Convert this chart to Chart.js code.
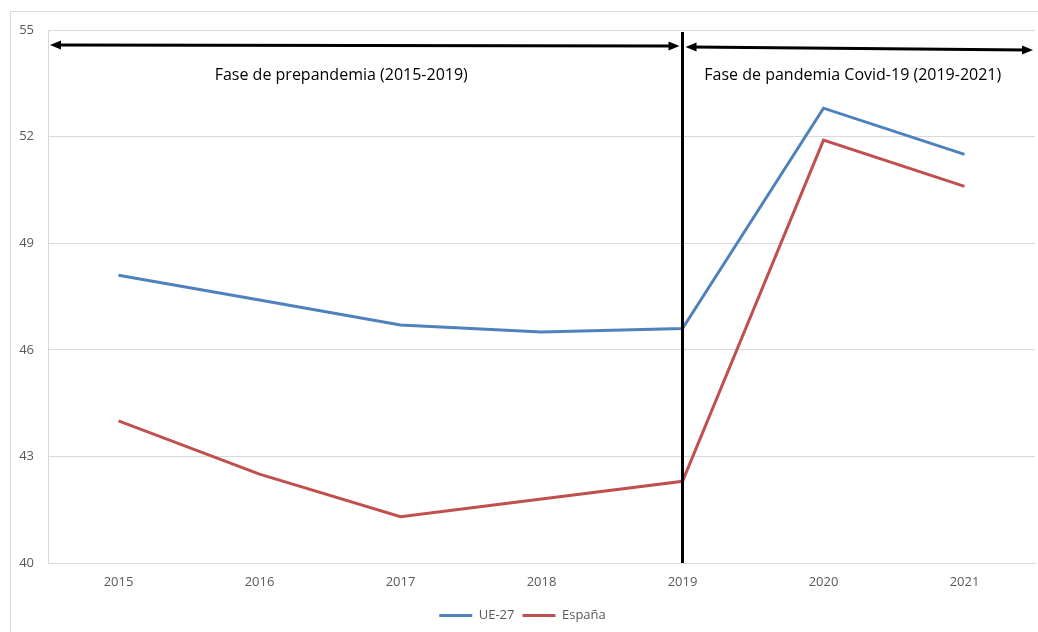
<!DOCTYPE html>
<html>
<head>
<meta charset="utf-8">
<script src="https://cdn.jsdelivr.net/npm/chart.js@4.4.1/dist/chart.umd.min.js"></script>
<style>
  html, body { margin: 0; padding: 0; background: #fff; }
  #wrap { width: 1038px; height: 632px; }
</style>
</head>
<body>
<div id="wrap"><canvas id="chart" width="1038" height="632"></canvas></div>
<script>
const years = ['2015', '2016', '2017', '2018', '2019', '2020', '2021']
const ue27 = [48.1, 47.4, 46.7, 46.5, 46.6, 52.8, 51.5]
const espana = [44.0, 42.5, 41.3, 41.8, 42.3, 51.9, 50.6]
const yTicks = [40, 43, 46, 49, 52, 55]
const splitYear = '2019'
const phaseLabels = ['Fase de prepandemia (2015-2019)', 'Fase de pandemia Covid-19 (2019-2021)']

function arrowHead(ctx, x, y, dir) {
  ctx.beginPath()
  ctx.moveTo(x, y)
  ctx.lineTo(x - dir * 11, y - 4.5)
  ctx.lineTo(x - dir * 11, y + 4.5)
  ctx.closePath()
  ctx.fill()
}

function doubleArrow(ctx, x1, y1, x2, y2) {
  ctx.beginPath()
  ctx.moveTo(x1 + 6, y1)
  ctx.lineTo(x2 - 6, y2)
  ctx.stroke()
  arrowHead(ctx, x1, y1, -1)
  arrowHead(ctx, x2, y2, 1)
}

// frame + phase annotations
const phasePlugin = {
  id: 'phases',
  beforeDraw(chart) {
    const ctx = chart.ctx
    ctx.save()
    ctx.strokeStyle = '#d9d9d9'
    ctx.lineWidth = 1
    ctx.strokeRect(10.5, 11.5, 1040, 640)
    ctx.restore()
  },
  afterDatasetsDraw(chart) {
    const ctx = chart.ctx
    const area = chart.chartArea
    const xs = chart.scales.x
    const vx = xs.getPixelForValue(years.indexOf(splitYear))
    ctx.save()
    ctx.strokeStyle = '#000'
    ctx.fillStyle = '#000'
    ctx.lineWidth = 3
    ctx.beginPath()
    ctx.moveTo(vx, area.top + 2)
    ctx.lineTo(vx, area.bottom)
    ctx.stroke()

    ctx.lineWidth = 2.8
    doubleArrow(ctx, area.left + 2, area.top + 15, vx - 3, area.top + 16)
    doubleArrow(ctx, vx + 3, area.top + 17, area.right - 2, area.top + 20)

    ctx.font = '16px "Open Sans"'
    ctx.textAlign = 'center'
    ctx.textBaseline = 'middle'
    ctx.fillText(phaseLabels[0], (area.left + vx) / 2 - 24, area.top + 45)
    ctx.fillText(phaseLabels[1], (vx + area.right) / 2 - 6, area.top + 45)
    ctx.restore()
  }
}

new Chart(document.getElementById('chart'), {
  type: 'line',
  data: {
    labels: years,
    datasets: [
      { label: 'UE-27', data: ue27, borderColor: '#4f81bd', backgroundColor: '#4f81bd', borderWidth: 3, pointRadius: 0, tension: 0 },
      { label: 'España', data: espana, borderColor: '#c0504d', backgroundColor: '#c0504d', borderWidth: 3, pointRadius: 0, tension: 0 },
    ],
  },
  options: {
    responsive: false,
    animation: false,
    layout: { padding: { left: 10, right: 3, top: 30, bottom: 0 } },
    plugins: {
      legend: {
        position: 'bottom',
        labels: {
          usePointStyle: true,
          pointStyle: 'line',
          pointStyleWidth: 33,
          boxHeight: 3,
          padding: 8,
          color: '#595959',
          font: { family: 'Open Sans', size: 13 },
        },
      },
      tooltip: { enabled: false },
    },
    scales: {
      x: {
        offset: true,
        grid: { display: false, drawTicks: false },
        border: { color: '#d9d9d9' },
        ticks: { color: '#595959', padding: 11, font: { family: 'Open Sans', size: 13 } },
        afterFit(s) { s.height = 38 },
      },
      y: {
        min: 40,
        max: 55,
        afterBuildTicks(s) { s.ticks = yTicks.map(v => ({ value: v })) },
        grid: { color: '#d9d9d9', drawTicks: false },
        border: { color: '#d9d9d9' },
        ticks: { color: '#595959', padding: 14, font: { family: 'Open Sans', size: 13 } },
        afterFit(s) { s.width = 38 },
      },
    },
  },
  plugins: [phasePlugin],
})
</script>
</body>
</html>
